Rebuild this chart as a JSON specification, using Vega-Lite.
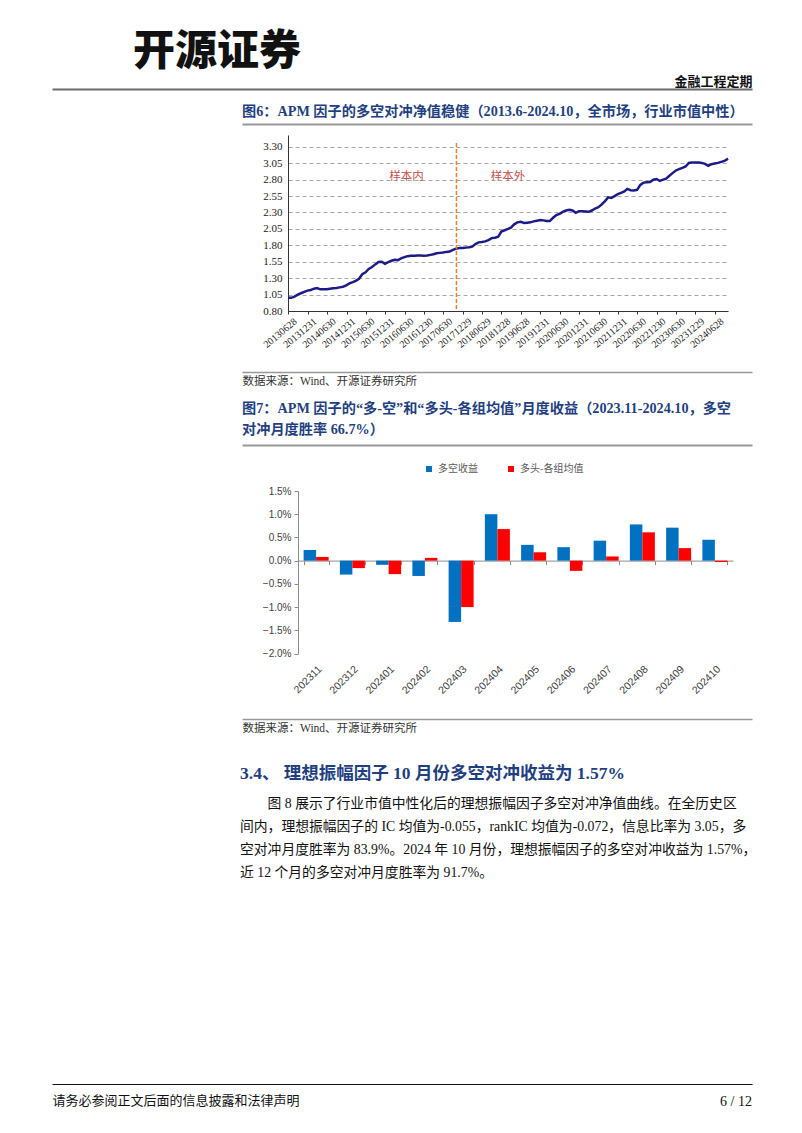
{
  "$schema": "https://vega.github.io/schema/vega-lite/v6.json",
  "padding": 0,
  "spacing": 0,
  "background": "white",
  "config": {
    "view": {"stroke": null},
    "axis": {"grid": false},
    "title": {"frame": "group", "anchor": "start", "orient": "bottom", "baseline": "top"}
  },
  "vconcat": [
    {
      "width": 802, "height": 96,
      "data": {"values": []},
      "mark": "point",
      "encoding": {"x": {"field": "p", "type": "quantitative", "scale": {"domain": [0, 1], "range": [52, 752]},
        "axis": {"orient": "top", "offset": -89, "domainColor": "#6b6b6b", "domainWidth": 2, "ticks": false, "labels": false, "grid": false,
          "title": "金融工程定期", "titleAnchor": "end", "titleAlign": "right", "titlePadding": 0.5, "titleFont": "Noto Sans CJK SC", "titleFontSize": 13, "titleFontWeight": "bold", "titleColor": "#111"}}},
      "title": {"text": "开源证券", "dx": 133, "offset": -64, "font": "Noto Sans CJK SC", "fontSize": 42, "fontWeight": 900, "color": "#111"}
    },
    {
      "width": 802, "height": 34,
      "data": {"values": []},
      "mark": "point",
      "encoding": {"x": {"field": "p", "type": "quantitative", "scale": {"domain": [0, 1], "range": [242, 752]},
        "axis": {"orient": "top", "offset": -28, "domainColor": "#9a9a9a", "domainWidth": 2, "ticks": false, "labels": false, "title": null}}},
      "title": {"text": "图6：APM 因子的多空对冲净值稳健（2013.6-2024.10，全市场，行业市值中性）", "dx": 242, "offset": -24.8, "font": "Liberation Serif, Noto Sans CJK SC", "fontSize": 14.2, "fontWeight": "bold", "color": "#1F3F7F"}
    },
    {
      "width": 802, "height": 240,
      "layer": [
        {
          "data": {"values": [
            {"d":"2013-06-28","v":1.00},{"d":"2013-07-28","v":1.00},{"d":"2013-08-28","v":1.02},{"d":"2013-09-28","v":1.05},{"d":"2013-10-28","v":1.07},{"d":"2013-11-28","v":1.09},{"d":"2013-12-28","v":1.11},
            {"d":"2014-01-28","v":1.12},{"d":"2014-02-28","v":1.14},{"d":"2014-03-28","v":1.15},{"d":"2014-04-28","v":1.13},{"d":"2014-05-28","v":1.13},{"d":"2014-06-28","v":1.13},{"d":"2014-07-28","v":1.14},{"d":"2014-08-28","v":1.145},{"d":"2014-09-28","v":1.15},{"d":"2014-10-28","v":1.16},{"d":"2014-11-28","v":1.17},{"d":"2014-12-28","v":1.19},
            {"d":"2015-01-28","v":1.22},{"d":"2015-02-28","v":1.24},{"d":"2015-03-28","v":1.26},{"d":"2015-04-28","v":1.29},{"d":"2015-05-28","v":1.36},{"d":"2015-06-28","v":1.39},{"d":"2015-07-28","v":1.44},{"d":"2015-08-28","v":1.47},{"d":"2015-09-28","v":1.51},{"d":"2015-10-28","v":1.545},{"d":"2015-11-28","v":1.55},{"d":"2015-12-28","v":1.52},
            {"d":"2016-01-28","v":1.545},{"d":"2016-02-28","v":1.565},{"d":"2016-03-28","v":1.58},{"d":"2016-04-28","v":1.575},{"d":"2016-05-28","v":1.60},{"d":"2016-06-28","v":1.62},{"d":"2016-07-28","v":1.635},{"d":"2016-08-28","v":1.64},{"d":"2016-09-28","v":1.64},{"d":"2016-10-28","v":1.645},{"d":"2016-11-28","v":1.645},{"d":"2016-12-28","v":1.64},
            {"d":"2017-01-28","v":1.645},{"d":"2017-02-28","v":1.655},{"d":"2017-03-28","v":1.665},{"d":"2017-04-28","v":1.68},{"d":"2017-05-28","v":1.685},{"d":"2017-06-28","v":1.69},{"d":"2017-07-28","v":1.70},{"d":"2017-08-28","v":1.705},{"d":"2017-09-28","v":1.73},{"d":"2017-10-28","v":1.75},{"d":"2017-11-28","v":1.76},{"d":"2017-12-28","v":1.76},
            {"d":"2018-01-28","v":1.765},{"d":"2018-02-28","v":1.77},{"d":"2018-03-28","v":1.78},{"d":"2018-04-28","v":1.82},{"d":"2018-05-28","v":1.845},{"d":"2018-06-28","v":1.85},{"d":"2018-07-28","v":1.86},{"d":"2018-08-28","v":1.88},{"d":"2018-09-28","v":1.91},{"d":"2018-10-28","v":1.915},{"d":"2018-11-28","v":1.93},{"d":"2018-12-28","v":2.01},
            {"d":"2019-01-28","v":2.03},{"d":"2019-02-28","v":2.05},{"d":"2019-03-28","v":2.07},{"d":"2019-04-28","v":2.12},{"d":"2019-05-28","v":2.15},{"d":"2019-06-28","v":2.16},{"d":"2019-07-28","v":2.14},{"d":"2019-08-28","v":2.145},{"d":"2019-09-28","v":2.15},{"d":"2019-10-28","v":2.165},{"d":"2019-11-28","v":2.175},{"d":"2019-12-28","v":2.185},
            {"d":"2020-01-28","v":2.18},{"d":"2020-02-28","v":2.17},{"d":"2020-03-28","v":2.17},{"d":"2020-04-28","v":2.22},{"d":"2020-05-28","v":2.26},{"d":"2020-06-28","v":2.28},{"d":"2020-07-28","v":2.31},{"d":"2020-08-28","v":2.33},{"d":"2020-09-28","v":2.34},{"d":"2020-10-28","v":2.33},{"d":"2020-11-28","v":2.295},{"d":"2020-12-28","v":2.32},
            {"d":"2021-01-28","v":2.32},{"d":"2021-02-28","v":2.315},{"d":"2021-03-28","v":2.31},{"d":"2021-04-28","v":2.33},{"d":"2021-05-28","v":2.36},{"d":"2021-06-28","v":2.38},{"d":"2021-07-28","v":2.42},{"d":"2021-08-28","v":2.47},{"d":"2021-09-28","v":2.53},{"d":"2021-10-28","v":2.52},{"d":"2021-11-28","v":2.55},{"d":"2021-12-28","v":2.58},
            {"d":"2022-01-28","v":2.60},{"d":"2022-02-28","v":2.62},{"d":"2022-03-28","v":2.66},{"d":"2022-04-28","v":2.64},{"d":"2022-05-28","v":2.635},{"d":"2022-06-28","v":2.645},{"d":"2022-07-28","v":2.72},{"d":"2022-08-28","v":2.755},{"d":"2022-09-28","v":2.76},{"d":"2022-10-28","v":2.765},{"d":"2022-11-28","v":2.80},{"d":"2022-12-28","v":2.81},
            {"d":"2023-01-28","v":2.78},{"d":"2023-02-28","v":2.80},{"d":"2023-03-28","v":2.815},{"d":"2023-04-28","v":2.86},{"d":"2023-05-28","v":2.90},{"d":"2023-06-28","v":2.94},{"d":"2023-07-28","v":2.96},{"d":"2023-08-28","v":2.98},{"d":"2023-09-28","v":3.00},{"d":"2023-10-28","v":3.055},{"d":"2023-11-28","v":3.06},{"d":"2023-12-28","v":3.06},
            {"d":"2024-01-28","v":3.06},{"d":"2024-02-28","v":3.055},{"d":"2024-03-28","v":3.04},{"d":"2024-04-28","v":3.01},{"d":"2024-05-28","v":3.035},{"d":"2024-06-28","v":3.045},{"d":"2024-07-28","v":3.055},{"d":"2024-08-28","v":3.07},{"d":"2024-09-28","v":3.085},{"d":"2024-10-31","v":3.12}
          ]},
          "mark": {"type": "line", "color": "#1C1C86", "strokeWidth": 2.5},
          "encoding": {
            "x": {"field": "d", "type": "temporal",
              "scale": {"type": "utc", "domain": [{"year": 2013, "month": 6, "date": 28, "utc": true}, {"year": 2024, "month": 10, "date": 31, "utc": true}], "range": [288, 728]},
              "axis": {"orient": "bottom", "offset": -59, "title": null, "format": "%Y%m%d", "labelAngle": -40, "labelOverlap": false, "labelFlush": false, "tickCount": 40,
                "values": [
                  {"year": 2013, "month": 6, "date": 28, "utc": true}, {"year": 2013, "month": 12, "date": 31, "utc": true},
                  {"year": 2014, "month": 6, "date": 30, "utc": true}, {"year": 2014, "month": 12, "date": 31, "utc": true},
                  {"year": 2015, "month": 6, "date": 30, "utc": true}, {"year": 2015, "month": 12, "date": 31, "utc": true},
                  {"year": 2016, "month": 6, "date": 30, "utc": true}, {"year": 2016, "month": 12, "date": 30, "utc": true},
                  {"year": 2017, "month": 6, "date": 30, "utc": true}, {"year": 2017, "month": 12, "date": 29, "utc": true},
                  {"year": 2018, "month": 6, "date": 29, "utc": true}, {"year": 2018, "month": 12, "date": 28, "utc": true},
                  {"year": 2019, "month": 6, "date": 28, "utc": true}, {"year": 2019, "month": 12, "date": 31, "utc": true},
                  {"year": 2020, "month": 6, "date": 30, "utc": true}, {"year": 2020, "month": 12, "date": 31, "utc": true},
                  {"year": 2021, "month": 6, "date": 30, "utc": true}, {"year": 2021, "month": 12, "date": 31, "utc": true},
                  {"year": 2022, "month": 6, "date": 30, "utc": true}, {"year": 2022, "month": 12, "date": 30, "utc": true},
                  {"year": 2023, "month": 6, "date": 30, "utc": true}, {"year": 2023, "month": 12, "date": 29, "utc": true},
                  {"year": 2024, "month": 6, "date": 28, "utc": true}
                ],
                "labelFont": "Liberation Serif", "labelFontSize": 10, "labelColor": "#222", "labelPadding": 2, "labelOffset": 4,
                "domainColor": "#333", "tickColor": "#333", "tickSize": 3}},
            "y": {"field": "v", "type": "quantitative",
              "scale": {"domain": [0.8, 3.48], "range": [181, 5], "zero": false, "nice": false},
              "axis": {"orient": "left", "offset": -288, "title": null, "values": [0.8, 1.05, 1.3, 1.55, 1.8, 2.05, 2.3, 2.55, 2.8, 3.05, 3.3], "format": ".2f", "tickCount": 40,
                "grid": true, "gridDash": [4, 3], "gridColor": "#A6A6A6", "gridWidth": 1, "ticks": false, "labelPadding": 6,
                "labelFont": "Liberation Serif", "labelFontSize": 11, "labelColor": "#222", "domainColor": "#333"}}
          }
        },
        {
          "data": {"values": [{"d": "2017-10-31", "lo": 0.83, "hi": 3.38}]},
          "mark": {"type": "rule", "color": "#ED7D31", "strokeDash": [4, 2], "strokeWidth": 1.5},
          "encoding": {"x": {"field": "d", "type": "temporal"}, "y": {"field": "lo", "type": "quantitative"}, "y2": {"field": "hi"}}
        },
        {
          "data": {"values": [{"d": "2016-07-18", "v": 2.84, "t": "样本内"}, {"d": "2019-02-28", "v": 2.84, "t": "样本外"}]},
          "mark": {"type": "text", "color": "#C0504D", "fontSize": 11.5, "font": "Noto Sans CJK SC"},
          "encoding": {"x": {"field": "d", "type": "temporal"}, "y": {"field": "v", "type": "quantitative"}, "text": {"field": "t"}}
        }
      ]
    },
    {
      "width": 802, "height": 25,
      "data": {"values": []},
      "mark": "point",
      "encoding": {"x": {"field": "p", "type": "quantitative", "scale": {"domain": [0, 1], "range": [242, 752]},
        "axis": {"orient": "bottom", "offset": -23, "domainColor": "#999", "domainWidth": 1.5, "ticks": false, "labels": false,
          "title": "数据来源：Wind、开源证券研究所", "titleAnchor": "start", "titleAlign": "left", "titlePadding": 3.5, "titleFont": "Liberation Serif, Noto Sans CJK SC", "titleFontSize": 11.5, "titleFontWeight": "normal", "titleColor": "#333"}}}
    },
    {
      "width": 802, "height": 57,
      "data": {"values": []},
      "mark": "point",
      "encoding": {"x": {"field": "p", "type": "quantitative", "scale": {"domain": [0, 1], "range": [242, 752]},
        "axis": {"orient": "top", "offset": -50, "domainColor": "#9a9a9a", "domainWidth": 2, "ticks": false, "labels": false, "title": null}}},
      "title": {"text": ["图7：APM 因子的“多-空”和“多头-各组均值”月度收益（2023.11-2024.10，多空", "对冲月度胜率 66.7%）"], "lineHeight": 21, "dx": 242, "offset": -49.8, "font": "Liberation Serif, Noto Sans CJK SC", "fontSize": 14.2, "fontWeight": "bold", "color": "#1F3F7F"}
    },
    {
      "width": 802, "height": 260,
      "data": {"values": [
        {"m": "202311", "s": "多空收益", "r": 0.0023}, {"m": "202311", "s": "多头-各组均值", "r": 0.0008},
        {"m": "202312", "s": "多空收益", "r": -0.0030}, {"m": "202312", "s": "多头-各组均值", "r": -0.0016},
        {"m": "202401", "s": "多空收益", "r": -0.0009}, {"m": "202401", "s": "多头-各组均值", "r": -0.0029},
        {"m": "202402", "s": "多空收益", "r": -0.0033}, {"m": "202402", "s": "多头-各组均值", "r": 0.0006},
        {"m": "202403", "s": "多空收益", "r": -0.0132}, {"m": "202403", "s": "多头-各组均值", "r": -0.0100},
        {"m": "202404", "s": "多空收益", "r": 0.0100}, {"m": "202404", "s": "多头-各组均值", "r": 0.0068},
        {"m": "202405", "s": "多空收益", "r": 0.0034}, {"m": "202405", "s": "多头-各组均值", "r": 0.0018},
        {"m": "202406", "s": "多空收益", "r": 0.0029}, {"m": "202406", "s": "多头-各组均值", "r": -0.0022},
        {"m": "202407", "s": "多空收益", "r": 0.0043}, {"m": "202407", "s": "多头-各组均值", "r": 0.0009},
        {"m": "202408", "s": "多空收益", "r": 0.0078}, {"m": "202408", "s": "多头-各组均值", "r": 0.0061},
        {"m": "202409", "s": "多空收益", "r": 0.0071}, {"m": "202409", "s": "多头-各组均值", "r": 0.0027},
        {"m": "202410", "s": "多空收益", "r": 0.0045}, {"m": "202410", "s": "多头-各组均值", "r": -0.0003}
      ]},
      "mark": {"type": "bar"},
      "encoding": {
        "x": {"field": "m", "type": "nominal",
          "scale": {"range": [298, 733], "paddingInner": 0.31, "paddingOuter": 0.155},
          "axis": {"orient": "bottom", "offset": -151.4, "title": null, "labelAngle": -45, "labelPadding": 99, "tickBand": "extent", "tickSize": 4,
            "domainColor": "#8c8c8c", "tickColor": "#8c8c8c", "labelFont": "Liberation Sans", "labelFontSize": 10.5, "labelColor": "#404040"}},
        "xOffset": {"field": "s", "type": "nominal", "sort": ["多空收益", "多头-各组均值"], "scale": {"paddingInner": 0}},
        "y": {"field": "r", "type": "quantitative", "stack": null,
          "scale": {"domain": [-0.02, 0.015], "range": [201.5, 39], "nice": false, "zero": false},
          "axis": {"orient": "left", "offset": -298, "title": null, "values": [-0.02, -0.015, -0.01, -0.005, 0, 0.005, 0.01, 0.015], "format": ".1%", "tickCount": 20,
            "tickSize": 4, "labelPadding": 3, "grid": false, "domainColor": "#8c8c8c", "tickColor": "#8c8c8c",
            "labelFont": "Liberation Sans", "labelFontSize": 10, "labelColor": "#404040"}},
        "color": {"field": "s", "type": "nominal", "sort": ["多空收益", "多头-各组均值"],
          "scale": {"domain": ["多空收益", "多头-各组均值"], "range": ["#0070C0", "#FF0000"]},
          "legend": {"orient": "none", "legendX": 424, "legendY": 464, "direction": "horizontal", "title": null, "symbolType": "square", "symbolSize": 36, "symbolStrokeWidth": 0,
            "labelFont": "Noto Sans CJK SC", "labelFontSize": 10, "labelColor": "#595959", "columnPadding": 28, "labelOffset": 4}}
      }
    },
    {
      "width": 802, "height": 33,
      "data": {"values": []},
      "mark": "point",
      "encoding": {"x": {"field": "p", "type": "quantitative", "scale": {"domain": [0, 1], "range": [242, 752]},
        "axis": {"orient": "bottom", "offset": -26, "domainColor": "#999", "domainWidth": 1.5, "ticks": false, "labels": false,
          "title": "数据来源：Wind、开源证券研究所", "titleAnchor": "start", "titleAlign": "left", "titlePadding": 3.5, "titleFont": "Liberation Serif, Noto Sans CJK SC", "titleFontSize": 11.5, "titleFontWeight": "normal", "titleColor": "#333"}}}
    },
    {
      "width": 802, "height": 155,
      "data": {"values": []},
      "mark": "point",
      "title": {"text": "3.4、 理想振幅因子 10 月份多空对冲收益为 1.57%", "dx": 240, "offset": -135, "font": "Liberation Serif, Noto Sans CJK SC", "fontSize": 17.5, "fontWeight": "bold", "color": "#1F3F7F",
        "subtitle": ["\u200B\u3000\u3000图 8 展示了行业市值中性化后的理想振幅因子多空对冲净值曲线。在全历史区", "间内，理想振幅因子的 IC 均值为-0.055，rankIC 均值为-0.072，信息比率为 3.05，多", "空对冲月度胜率为 83.9%。2024 年 10 月份，理想振幅因子的多空对冲收益为 1.57%，", "近 12 个月的多空对冲月度胜率为 91.7%。"],
        "subtitleFont": "Liberation Serif, Noto Sans CJK SC", "subtitleFontSize": 13.8, "subtitleColor": "#111", "subtitleLineHeight": 23, "subtitlePadding": 14}
    },
    {
      "width": 802, "height": 233,
      "data": {"values": []},
      "mark": "point",
      "encoding": {"x": {"field": "p", "type": "quantitative", "scale": {"domain": [0, 1], "range": [52, 752]},
        "axis": {"orient": "bottom", "offset": -49, "domainColor": "#111", "domainWidth": 1.2, "ticks": false, "labels": false,
          "title": "请务必参阅正文后面的信息披露和法律声明", "titleAnchor": "start", "titleAlign": "left", "titlePadding": 10, "titleFont": "Liberation Serif, Noto Sans CJK SC", "titleFontSize": 13, "titleFontWeight": "normal", "titleColor": "#111"}}},
      "title": {"text": "6 / 12", "anchor": "end", "dx": -50, "offset": -38.4, "font": "Liberation Serif", "fontSize": 14, "fontWeight": "normal", "color": "#111"}
    }
  ]
}
